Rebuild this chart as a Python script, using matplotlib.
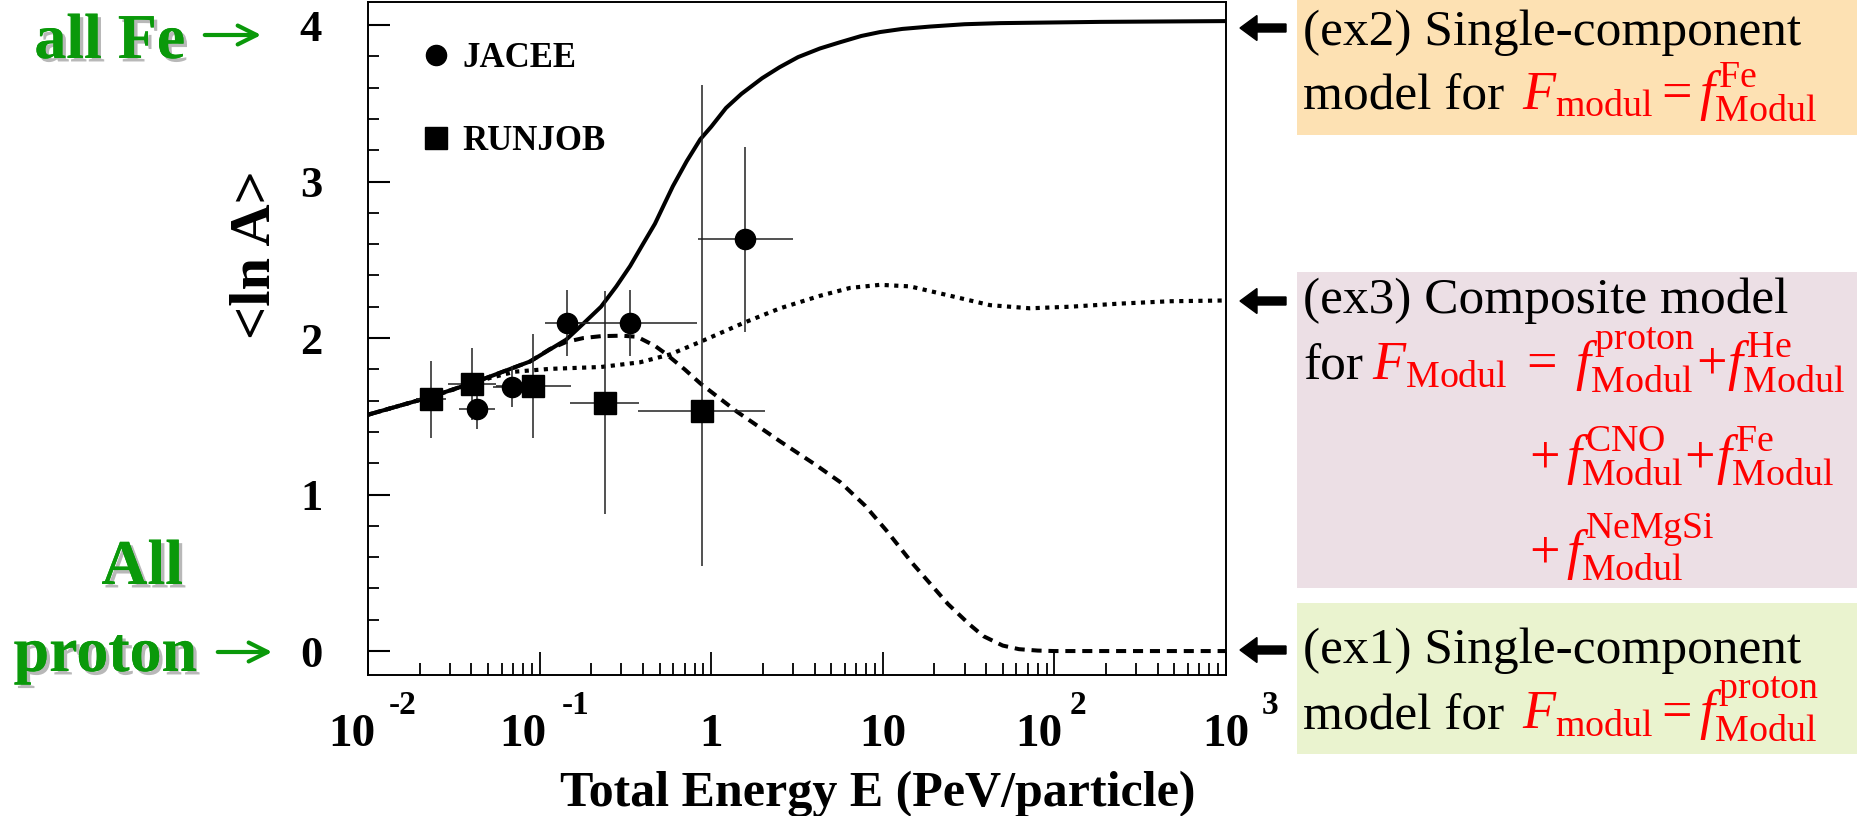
import matplotlib
matplotlib.use("Agg")
import numpy as np
import matplotlib.pyplot as plt
from matplotlib.lines import Line2D
from matplotlib.patches import Rectangle, FancyArrow
from matplotlib.ticker import LogLocator, MultipleLocator, NullFormatter
from matplotlib import patheffects

plt.rcParams['font.family'] = 'Liberation Serif'
plt.rcParams['mathtext.fontset'] = 'custom'
plt.rcParams['mathtext.rm'] = 'Liberation Serif'
plt.rcParams['mathtext.it'] = 'Liberation Serif:italic'
plt.rcParams['mathtext.bf'] = 'Liberation Serif:bold'

# JACEE points (E in PeV/particle)
jacee_e = [0.0429, 0.0687, 0.145, 0.336, 1.57]
jacee_lna = [1.546, 1.689, 2.098, 2.098, 2.63]
jacee_err = [0.13, 0.13, 0.21, 0.21, 0.59]
jacee_e_lo = [0.0337, 0.0533, 0.107, 0.136, 0.837]
jacee_e_hi = [0.0547, 0.0879, 0.197, 0.830, 2.98]

# RUNJOB points
runjob_e = [0.0233, 0.0402, 0.0918, 0.240, 0.879]
runjob_lna = [1.608, 1.704, 1.693, 1.587, 1.536]
runjob_err_lo = [0.245, 0.23, 0.33, 0.714, 0.99]
runjob_err_hi = [0.245, 0.23, 0.33, 0.714, 2.08]
runjob_e_lo = [0.019, 0.0291, 0.0554, 0.151, 0.375]
runjob_e_hi = [0.0286, 0.0555, 0.152, 0.380, 2.06]

# model curves
fe_e = [0.01, 0.0233, 0.0425, 0.0879, 0.143, 0.179, 0.228, 0.28, 0.337, 0.40,
        0.470, 0.53, 0.598, 0.72, 0.864, 1.0, 1.22, 1.5, 1.98, 2.5, 3.21,
        4.3, 5.64, 7.5, 9.64, 13.0, 18.8, 30.0, 48.2, 185, 1000]
fe_lna = [1.51, 1.625, 1.72, 1.85, 1.99, 2.09, 2.20, 2.33, 2.46, 2.60,
          2.73, 2.85, 2.97, 3.13, 3.27, 3.35, 3.47, 3.56, 3.66, 3.73, 3.795,
          3.85, 3.89, 3.93, 3.955, 3.975, 3.99, 4.005, 4.012, 4.02, 4.025]

comp_e = [0.01, 0.0233, 0.0393, 0.0514, 0.0719, 0.115, 0.228, 0.385, 0.575,
          0.861, 1.57, 2.52, 4.31, 6.44, 9.64, 14.4, 24.7, 42.2, 72.1, 123,
          241, 472, 1000]
comp_lna = [1.51, 1.625, 1.705, 1.745, 1.785, 1.803, 1.815, 1.845, 1.895,
            1.975, 2.10, 2.19, 2.27, 2.32, 2.34, 2.33, 2.27, 2.21, 2.19, 2.20,
            2.22, 2.235, 2.24]

prot_e = [0.01, 0.0233, 0.0425, 0.0879, 0.115, 0.143, 0.18, 0.228, 0.30,
          0.37, 0.47, 0.543, 0.70, 0.864, 1.41, 2.52, 4.06, 5.64, 7.87, 10.5,
          14.9, 24.0, 32.0, 38.6, 50.0, 62.2, 80.0, 100, 1000]
prot_lna = [1.51, 1.625, 1.72, 1.85, 1.93, 1.975, 2.0, 2.012, 2.015, 2.008,
            1.95, 1.90, 1.80, 1.71, 1.53, 1.34, 1.19, 1.08, 0.93, 0.77, 0.56,
            0.30, 0.17, 0.095, 0.035, 0.012, 0.003, 0.0, 0.0]

xtick_pos = [0.01, 0.1, 1, 10, 100, 1000]
xtick_base = ['10', '10', '1', '10', '10', '10']
xtick_exp = ['-2', '-1', '', '', '2', '3']

W, H = 1858, 816
fig = plt.figure(figsize=(W / 100, H / 100), dpi=100)

# overlay in pixel units for the side annotations
ov = fig.add_axes([0, 0, 1, 1], zorder=0)
ov.set_xlim(0, W)
ov.set_ylim(H, 0)
ov.axis('off')

ax = fig.add_axes([368 / W, 141 / H, 858 / W, 673 / H], zorder=1)
ax.set_facecolor('none')

ax.plot(fe_e, fe_lna, color='black', lw=2.9, solid_capstyle='round')
ax.plot(comp_e, comp_lna, color='black', lw=3.0, ls=(0, (1.0, 1.3)))
ax.plot(prot_e, prot_lna, color='black', lw=2.9, ls=(0, (2.5, 1.7)))

j_e = np.array(jacee_e)
ax.errorbar(j_e, jacee_lna, yerr=jacee_err,
            xerr=[j_e - np.array(jacee_e_lo), np.array(jacee_e_hi) - j_e],
            fmt='o', ms=14.5, color='black', ecolor='#222222', elinewidth=1.1,
            capsize=0, zorder=3)
r_e = np.array(runjob_e)
ax.errorbar(r_e, runjob_lna, yerr=[runjob_err_lo, runjob_err_hi],
            xerr=[r_e - np.array(runjob_e_lo), np.array(runjob_e_hi) - r_e],
            fmt='s', ms=15.5, color='black', ecolor='#222222', elinewidth=1.1,
            capsize=0, zorder=3)

ax.set_xscale('log')
ax.set_xlim(0.01, 1000)
ax.set_ylim(-0.153, 4.147)
ax.xaxis.set_major_locator(LogLocator(base=10, numticks=10))
ax.xaxis.set_minor_locator(LogLocator(base=10, subs=np.arange(2, 10), numticks=20))
ax.xaxis.set_major_formatter(NullFormatter())
ax.xaxis.set_minor_formatter(NullFormatter())
ax.yaxis.set_major_locator(MultipleLocator(1))
ax.yaxis.set_minor_locator(MultipleLocator(0.2))
ax.tick_params(axis='x', which='major', direction='in', length=16.5, width=1.3)
ax.tick_params(axis='x', which='minor', direction='in', length=8.6, width=1.3)
ax.tick_params(axis='y', which='major', direction='in', length=15.8, width=1.5,
               pad=33, labelsize=32)
ax.tick_params(axis='y', which='minor', direction='in', length=8, width=1.3)
for lab in ax.get_yticklabels():
    lab.set_fontweight('bold')
for sp in ax.spines.values():
    sp.set_linewidth(1.4)

# decade labels with raised exponents (offsets in points from the tick)
base_dx = [-12, -12, 0, 0, -11, 0]
exp_dx = [15, 16, 0, 0, 11, 26]
for pos, b, e, bdx, edx in zip(xtick_pos, xtick_base, xtick_exp, base_dx, exp_dx):
    ax.annotate(b, xy=(pos, 0), xycoords=('data', 'axes fraction'),
                xytext=(bdx, -43), textcoords='offset points',
                ha='center', va='center', fontsize=34, fontweight='bold')
    if e:
        ax.annotate(e, xy=(pos, 0), xycoords=('data', 'axes fraction'),
                    xytext=(edx, -22), textcoords='offset points',
                    ha='left', va='center', fontsize=24, fontweight='bold')

ov.text(878, 806, 'Total Energy E (PeV/particle)', ha='center', va='baseline',
        fontsize=36, fontweight='bold')
ov.text(256, 255, r'<ln A>', rotation=90, ha='center', va='center',
        fontsize=42, fontweight='bold')

handles = [Line2D([], [], marker='o', ls='none', ms=14.5, color='black'),
           Line2D([], [], marker='s', ls='none', ms=15.5, color='black')]
ax.legend(handles, ['JACEE', 'RUNJOB'], loc='upper left',
          bbox_to_anchor=(0.0594, 0.9405), frameon=False, borderpad=0,
          borderaxespad=0, handlelength=1.0, handletextpad=0.25,
          labelspacing=1.45, prop={'family': 'Liberation Serif',
                                   'weight': 'bold', 'size': 25})

# green labels on the left
green = '#0a990a'
shadow = [patheffects.withSimplePatchShadow(offset=(2.5, -2.5),
                                            shadow_rgbFace='#9a9a9a', alpha=0.7),
          patheffects.Normal()]
for txt, x, y in [('all Fe', 185, 58), ('All', 183, 584), ('proton', 197, 671)]:
    ov.text(x, y, txt, ha='right', va='baseline', fontsize=46,
            fontweight='bold', color=green, path_effects=shadow)
for x0, x1, y in [(202, 264, 35), (215, 275, 652)]:
    ov.annotate('', xy=(x1, y), xytext=(x0, y),
                arrowprops=dict(arrowstyle='->', color=green, lw=3,
                                mutation_scale=34))

# model boxes on the right
boxes = [((1297, 0), 135, '#fde1b3'),
         ((1297, 272), 316, '#ecdfe5'),
         ((1297, 603), 151, '#eaf3cf')]
for (bx, by), bh, col in boxes:
    ov.add_patch(Rectangle((bx, by), W - bx, bh, color=col, lw=0))

for y in [28, 301, 650]:
    ov.add_patch(FancyArrow(1286, y, -46, 0, width=8, head_width=25,
                            head_length=17, length_includes_head=True,
                            color='black'))

red = '#ff0000'
fs = 37
mfs = 39
ov.text(1303, 45, '(ex2) Single-component', fontsize=fs, va='baseline')
ov.text(1303, 110, 'model for', fontsize=fs, va='baseline')
ov.text(1522, 110, r'$F_{\rm modul}=f^{\rm Fe}_{\rm Modul}$', fontsize=mfs,
        va='baseline', color=red)

ov.text(1303, 313, '(ex3) Composite model', fontsize=fs, va='baseline')
ov.text(1303, 380, 'for', fontsize=fs, va='baseline')
ov.text(1372, 380, r'$F_{\rm Modul}\;=\;f^{\rm proton}_{\rm Modul}\!+\!f^{\rm He}_{\rm Modul}$',
        fontsize=mfs, va='baseline', color=red)
ov.text(1529, 473, r'$+\,f^{\rm CNO}_{\rm Modul}\!+\!f^{\rm Fe}_{\rm Modul}$',
        fontsize=mfs, va='baseline', color=red)
ov.text(1529, 568, r'$+\,f^{\rm NeMgSi}_{\rm Modul}$', fontsize=mfs,
        va='baseline', color=red)

ov.text(1303, 663, '(ex1) Single-component', fontsize=fs, va='baseline')
ov.text(1303, 729, 'model for', fontsize=fs, va='baseline')
ov.text(1522, 729, r'$F_{\rm modul}=f^{\rm proton}_{\rm Modul}$', fontsize=mfs,
        va='baseline', color=red)

fig.savefig('out.png', dpi=100, facecolor='white')
